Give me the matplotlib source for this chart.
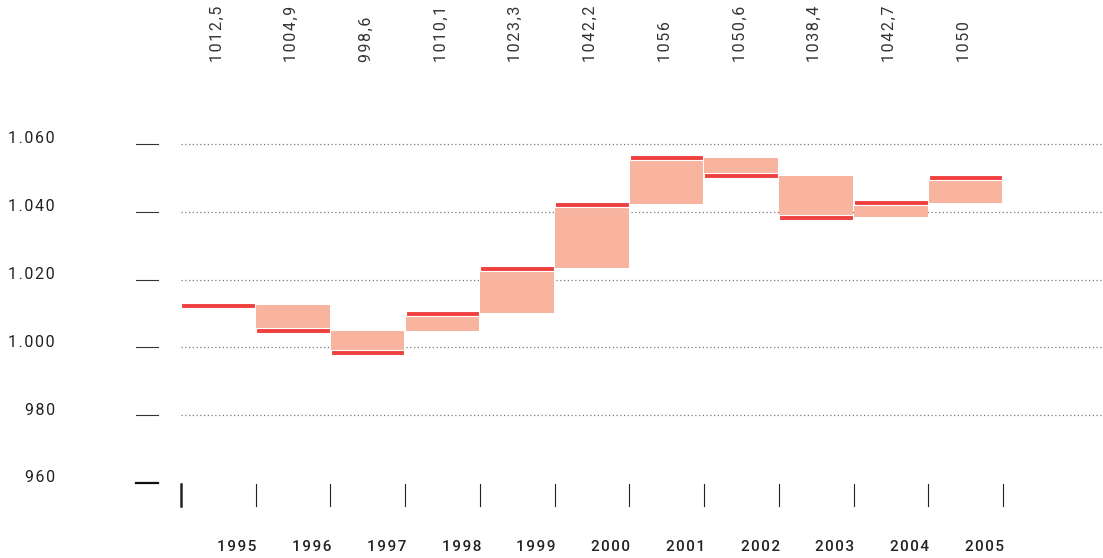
import matplotlib
matplotlib.use("Agg")
import matplotlib.pyplot as plt
from matplotlib.transforms import blended_transform_factory

years = ["1995", "1996", "1997", "1998", "1999", "2000", "2001", "2002", "2003", "2004", "2005"]
values = [1012.5, 1004.9, 998.6, 1010.1, 1023.3, 1042.2, 1056.0, 1050.6, 1038.4, 1042.7, 1050.0]
# start of each shaded change bar
bar_start = [1012.5, 1012.5, 1004.9, 1004.9, 1010.1, 1023.3, 1042.2, 1056.0, 1050.6, 1038.4, 1042.7]
value_labels = ["1012,5", "1004,9", "998,6", "1010,1", "1023,3", "1042,2", "1056", "1050,6", "1038,4", "1042,7", "1050"]
yticks = [960, 980, 1000, 1020, 1040, 1060]
ytick_labels = ["960", "980", "1.000", "1.020", "1.040", "1.060"]

SALMON = "#f9b4a0"
RED = "#ef3f3f"
DARK = "#222222"
HAIR = "\u200a"

plt.rcParams["font.family"] = ["Roboto", "DejaVu Sans"]


def spaced(s):
    return HAIR.join(s)


W, H = 1103, 558
fig = plt.figure(figsize=(W / 100, H / 100), dpi=100)
left_px, right_px = 181, 1103
bottom_px, top_px = 483, 100
ax = fig.add_axes([left_px / W, (H - bottom_px) / H, (right_px - left_px) / W, (bottom_px - top_px) / H])

px_per_cat = (1003 - 181) / 11.0
ax.set_xlim(0, (right_px - left_px) / px_per_cat)
px_per_unit = (483 - 144) / 100.0
ax.set_ylim(960, 960 + (bottom_px - top_px) / px_per_unit)
ax.axis("off")

# dotted gridlines
for v in yticks[1:]:
    ax.axhline(v, color="#777777", linestyle=(0, (1, 2)), linewidth=0.9, zorder=1)

# salmon change bars
for i, (s, v) in enumerate(zip(bar_start, values)):
    lo, hi = min(s, v), max(s, v)
    if hi > lo:
        ax.bar(i + 0.005, hi - lo, bottom=lo, width=0.985, align="edge",
               color=SALMON, linewidth=0, zorder=2)

# red value markers
thick = 5.0 / px_per_unit
for i, v in enumerate(values):
    ax.bar(i + 0.005, thick, bottom=v - thick / 2, width=0.985, align="edge",
           color=RED, edgecolor="white", linewidth=0.8, zorder=3)

# y tick marks and labels
tr_y = blended_transform_factory(ax.transAxes, ax.transData)
axw = right_px - left_px
x0 = (136 - left_px) / axw
x1 = (158 - left_px) / axw
for v, lab in zip(yticks, ytick_labels):
    lw = 1.6 if v == 960 else 0.8
    col = "#111111" if v == 960 else "#333333"
    ax.plot([x0, x1], [v, v], color=col, linewidth=lw, transform=tr_y, clip_on=False)
    ax.text((55 - left_px) / axw, v + 1.5, spaced(lab), transform=tr_y, ha="right", va="center",
            fontsize=11.5, color="#222222")

# x tick marks
tr_x = blended_transform_factory(ax.transData, ax.transAxes)
axh = bottom_px - top_px
for i in range(len(years) + 1):
    lw = 1.8 if i == 0 else 0.8
    ax.plot([i, i], [(483 - 484) / axh, (483 - 506) / axh], color=DARK, linewidth=lw,
            transform=tr_x, clip_on=False)

# year labels
for i, y in enumerate(years):
    ax.text(i + 0.75, (483 - 547) / axh, spaced(y), transform=tr_x, ha="center", va="center",
            fontsize=11, fontweight="medium", color="#222222")

# top value labels
for i, lab in enumerate(value_labels):
    ax.text(i + 0.48, (483 - 62) / axh, spaced(lab), transform=tr_x, ha="center", va="bottom",
            rotation=90, fontsize=11.5, color="#333333")

fig.savefig("out.png", dpi=100)
